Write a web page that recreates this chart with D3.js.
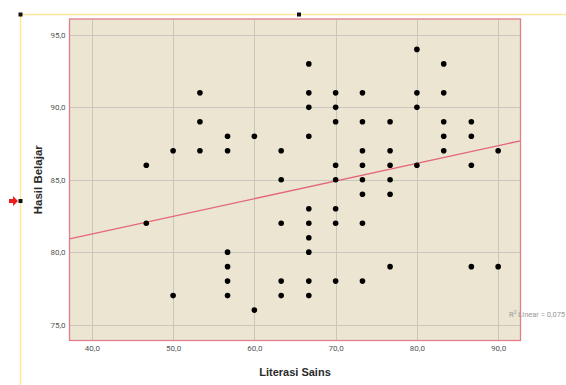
<!DOCTYPE html>
<html>
<head>
<meta charset="utf-8">
<script src="https://cdn.jsdelivr.net/npm/d3@7"></script>
<style>
  body { margin: 0; background: #fff; }
  svg { display: block; font-family: "Liberation Sans", Arial, sans-serif; }
</style>
</head>
<body>
<div id="chart"></div>
<script>
// Literasi Sains (x) columns and Hasil Belajar (y) values in each column
const xColumns = [46.7, 50, 53.3, 56.7, 60, 63.3, 66.7, 70, 73.3, 76.7, 80, 83.3, 86.7, 90];
const yByColumn = [
  [86, 82],
  [87, 77],
  [91, 89, 87],
  [88, 87, 80, 79, 78, 77],
  [88, 76],
  [87, 85, 82, 78, 77],
  [93, 91, 90, 88, 83, 82, 81, 80, 78, 77],
  [91, 90, 89, 86, 85, 83, 82, 78],
  [91, 89, 87, 86, 85, 84, 82, 78],
  [89, 87, 86, 85, 84, 79],
  [94, 91, 90, 86],
  [93, 91, 89, 88, 87],
  [89, 88, 86, 79],
  [87, 79]
];
const xTicks = [40, 50, 60, 70, 80, 90];
const yTicks = [75, 80, 85, 90, 95];
const xDomain = [37.25, 92.75];
const yDomain = [73.9, 96.1];
// fit line (value at the left and right edge)
const fitAtEdges = [80.92, 87.69];
const r2Text = "0,075";

const W = 566, H = 385;
const plot = { left: 69.5, top: 19, right: 520.5, bottom: 340.5 };

const svg = d3.select("#chart").append("svg")
  .attr("width", W).attr("height", H);

const x = d3.scaleLinear().domain(xDomain).range([plot.left, plot.right]);
const y = d3.scaleLinear().domain(yDomain).range([plot.bottom, plot.top]);

const fmt = v => d3.format(".1f")(v).replace(".", ",");

// --- outer (editor) frame ---
svg.append("line").attr("x1", 20).attr("x2", W).attr("y1", 14.5).attr("y2", 14.5)
  .attr("stroke", "#fde59a").attr("stroke-width", 1.5);
svg.append("line").attr("x1", 20.5).attr("x2", 20.5).attr("y1", 14).attr("y2", H)
  .attr("stroke", "#fde59a").attr("stroke-width", 1.5);
[[20.5, 14.5], [299, 14.5], [20.5, 201]].forEach(([cx, cy]) => {
  svg.append("rect").attr("x", cx - 2).attr("y", cy - 2).attr("width", 4).attr("height", 4)
    .attr("fill", "#111");
});
svg.append("path")
  .attr("d", "M9,199 L13,199 L13,196 L18,201 L13,206 L13,203 L9,203 Z")
  .attr("fill", "#ee1c1c");

// --- plot background ---
svg.append("rect")
  .attr("x", plot.left).attr("y", plot.top)
  .attr("width", plot.right - plot.left).attr("height", plot.bottom - plot.top)
  .attr("fill", "#ebe5d1");

// gridlines
const grid = svg.append("g").attr("stroke", "#c9c6bc").attr("stroke-width", 1);
grid.selectAll(".gx").data(xTicks).join("line")
  .attr("x1", d => Math.round(x(d)) + 0.5).attr("x2", d => Math.round(x(d)) + 0.5)
  .attr("y1", plot.top).attr("y2", plot.bottom);
grid.selectAll(".gy").data(yTicks).join("line")
  .attr("x1", plot.left).attr("x2", plot.right)
  .attr("y1", d => Math.round(y(d)) + 0.5).attr("y2", d => Math.round(y(d)) + 0.5);

// axes (labels only)
const xAxis = svg.append("g")
  .attr("transform", `translate(0,${plot.bottom})`)
  .call(d3.axisBottom(x).tickValues(xTicks).tickFormat(fmt).tickSize(0).tickPadding(5));
const yAxis = svg.append("g")
  .attr("transform", `translate(${plot.left},0)`)
  .call(d3.axisLeft(y).tickValues(yTicks).tickFormat(fmt).tickSize(0).tickPadding(4));
[xAxis, yAxis].forEach(g => {
  g.select(".domain").remove();
  g.selectAll("text").attr("fill", "#555").style("font-size", "8px")
    .style("font-family", "Roboto, 'Liberation Sans', sans-serif");
});

// fit line
svg.append("line")
  .attr("x1", x(xDomain[0])).attr("y1", y(fitAtEdges[0]))
  .attr("x2", x(xDomain[1])).attr("y2", y(fitAtEdges[1]))
  .attr("stroke", "#e3667c").attr("stroke-width", 1.3);

// points
const points = xColumns.flatMap((xv, i) => yByColumn[i].map(yv => ({ x: xv, y: yv })));
svg.append("g").selectAll("circle").data(points).join("circle")
  .attr("cx", d => x(d.x)).attr("cy", d => y(d.y))
  .attr("r", 2.8).attr("fill", "#000");

// plot border
svg.append("rect")
  .attr("x", plot.left).attr("y", plot.top)
  .attr("width", plot.right - plot.left).attr("height", plot.bottom - plot.top)
  .attr("fill", "none").attr("stroke", "#e37d8c").attr("stroke-width", 1.3);

// R² annotation
const r2 = svg.append("text")
  .attr("x", 509).attr("y", 317)
  .attr("fill", "#999").style("font-size", "7.5px")
  .style("font-family", "Roboto, 'Liberation Sans', sans-serif");
r2.append("tspan").text("R");
r2.append("tspan").attr("dy", -3).style("font-size", "5px").text("2");
r2.append("tspan").attr("dy", 3).text(" Linear = " + r2Text);

// axis titles
svg.append("text")
  .attr("x", 295).attr("y", 376)
  .attr("text-anchor", "middle")
  .style("font-size", "11px").style("font-weight", "bold").attr("fill", "#2a2a2a")
  .text("Literasi Sains");
svg.append("text")
  .attr("transform", `translate(42,${(plot.top + plot.bottom) / 2}) rotate(-90)`)
  .attr("text-anchor", "middle")
  .style("font-size", "11.5px").style("font-weight", "bold").attr("fill", "#2a2a2a")
  .text("Hasil Belajar");
</script>
</body>
</html>
